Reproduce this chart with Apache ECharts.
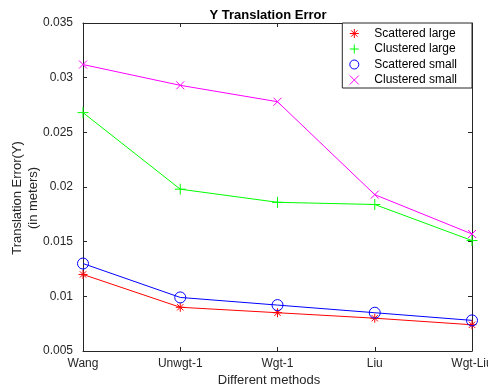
<!DOCTYPE html>
<html><head><meta charset="utf-8">
<script src="https://cdn.jsdelivr.net/npm/echarts@6/dist/echarts.min.js"></script>
<style>html,body{margin:0;padding:0;background:#fff}#c{width:488px;height:389px}</style>
</head><body><div id="c"></div>
<script>
const categories = ['Wang', 'Unwgt-1', 'Wgt-1', 'Liu', 'Wgt-Liu'];
const scatteredLarge = [0.0120, 0.0090, 0.0085, 0.0080, 0.0074];
const clusteredLarge = [0.0268, 0.0198, 0.0186, 0.0184, 0.0151];
const scatteredSmall = [0.0130, 0.0099, 0.0092, 0.0085, 0.0078];
const clusteredSmall = [0.0312, 0.0293, 0.0278, 0.0193, 0.0157];
const yTicks = { min: 0.005, max: 0.035, interval: 0.005 };

const FONT = 'Liberation Sans, Arial, sans-serif';
const AX = '#262626';
const P_ASTER = 'path://M5,0L5,10M0,5L10,5M1.5,1.5L8.5,8.5M8.5,1.5L1.5,8.5';
const P_PLUS = 'path://M5,0L5,10M0,5L10,5';
const P_X = 'path://M0,0L10,10M10,0L0,10';
const NOFILL = 'rgba(0,0,0,0)';

function mk(name, data, color, symbol, size) {
  return {
    name, type: 'line', data, symbol, symbolSize: size,
    showAllSymbol: true,
    lineStyle: { color, width: 1 },
    itemStyle: { color: NOFILL, borderColor: color, borderWidth: 1 },
    emphasis: { disabled: true },
    animation: false
  };
}
function leg(name, icon, color) {
  return { name, icon, itemStyle: { color: NOFILL, borderColor: color, borderWidth: 1 } };
}

const chart = echarts.init(document.getElementById('c'), null, { renderer: 'canvas' });
chart.setOption({
  animation: false,
  textStyle: { fontFamily: FONT },
  title: {
    text: 'Y Translation Error', left: 263, top: 4, textAlign: 'center',
    textStyle: { fontFamily: FONT, fontSize: 13, fontWeight: 'bold', color: '#000' }
  },
  grid: { left: 83, right: 16, top: 23, bottom: 38, containLabel: false, outerBoundsMode: 'none' },
  legend: {
    orient: 'vertical', right: 16, top: 23,
    backgroundColor: '#fff', borderColor: AX, borderWidth: 1,
    padding: [4.5, 15, 2, 7], itemGap: 3.5, itemWidth: 30, itemHeight: 9,
    symbolKeepAspect: true,
    textStyle: { fontFamily: FONT, fontSize: 12, color: '#000' },
    data: [
      leg('Scattered large', P_ASTER, '#ff0000'),
      leg('Clustered large', P_PLUS, '#00ff00'),
      leg('Scattered small', 'circle', '#0000ff'),
      leg('Clustered small', P_X, '#ff00ff')
    ]
  },
  xAxis: [{
    type: 'category', data: categories, boundaryGap: false,
    name: 'Different methods', nameLocation: 'middle', nameGap: 23, nameMoveOverlap: false,
    nameTextStyle: { fontFamily: FONT, fontSize: 13, color: AX, padding: [0, 17, 0, 0] },
    axisLine: { lineStyle: { color: AX } },
    axisTick: { inside: true, length: 4, lineStyle: { color: AX } },
    axisLabel: { fontFamily: FONT, fontSize: 12, color: AX, margin: 7 },
    splitLine: { show: false }
  }, {
    type: 'category', data: categories, boundaryGap: false, position: 'top',
    axisLine: { lineStyle: { color: AX } },
    axisTick: { inside: true, length: 4, lineStyle: { color: AX } },
    axisLabel: { show: false }, splitLine: { show: false }
  }],
  yAxis: [{
    type: 'value', min: yTicks.min, max: yTicks.max, interval: yTicks.interval,
    name: 'Translation Error(Y)\n(in meters)', nameLocation: 'middle', nameGap: 41, nameRotate: 90,
    nameMoveOverlap: false,
    nameTextStyle: { fontFamily: FONT, fontSize: 13, color: AX, lineHeight: 16.5, padding: [0, 22, 0, 0] },
    axisLine: { show: true, lineStyle: { color: AX } },
    axisTick: { show: true, inside: true, length: 4, lineStyle: { color: AX } },
    axisLabel: { fontFamily: FONT, fontSize: 12, color: AX, margin: 10 },
    splitLine: { show: false }
  }, {
    type: 'value', min: yTicks.min, max: yTicks.max, interval: yTicks.interval, position: 'right',
    axisLine: { show: true, lineStyle: { color: AX } },
    axisTick: { show: true, inside: true, length: 4, lineStyle: { color: AX } },
    axisLabel: { show: false }, splitLine: { show: false }
  }],
  series: [
    mk('Scattered large', scatteredLarge, '#ff0000', P_ASTER, 9),
    mk('Clustered large', clusteredLarge, '#00ff00', P_PLUS, 11),
    mk('Scattered small', scatteredSmall, '#0000ff', 'circle', 11),
    mk('Clustered small', clusteredSmall, '#ff00ff', P_X, 8)
  ]
});
</script></body></html>
